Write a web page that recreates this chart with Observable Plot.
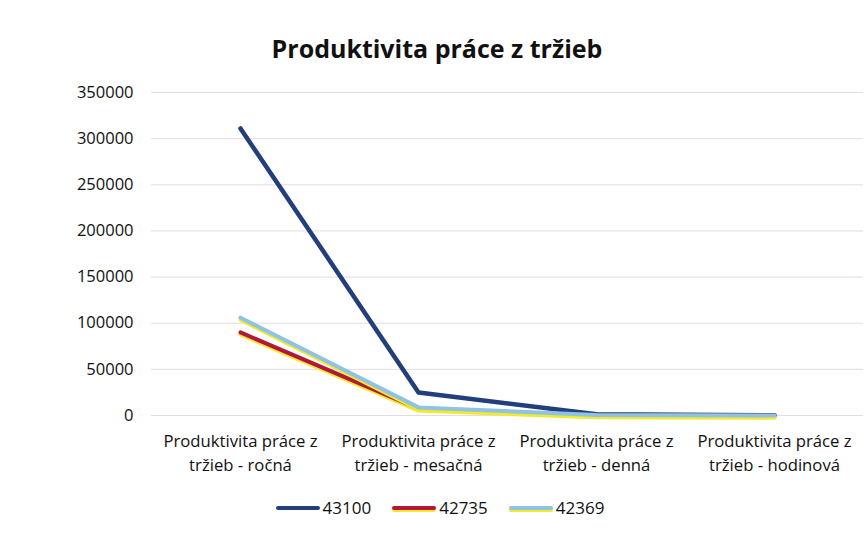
<!DOCTYPE html>
<html>
<head>
<meta charset="utf-8">
<script src="https://cdn.jsdelivr.net/npm/d3@7"></script>
<script src="https://cdn.jsdelivr.net/npm/@observablehq/plot@0.6"></script>
<style>
  html, body { margin: 0; padding: 0; background: #fff; }
  body { width: 866px; height: 535px; overflow: hidden; font-family: "Open Sans", sans-serif; color: #111; }
  #title { height: 75px; box-sizing: border-box; padding-top: 33px; text-align: center; font-size: 25px; line-height: 30px; font-weight: 700; padding-left: 8px; }
  #legend { height: 55px; display: flex; justify-content: center; align-items: center; gap: 21px; font-size: 17px; padding-left: 14px; }
  .item { display: flex; align-items: center; gap: 3px; }
  .sw { display: inline-block; width: 44px; height: 4px; border-radius: 2px; }
</style>
</head>
<body>
<div id="title">Produktivita práce z tržieb</div>
<div id="chart"></div>
<div id="legend"></div>
<script>
// Data
const categories = [
  "Produktivita práce z\ntržieb - ročná",
  "Produktivita práce z\ntržieb - mesačná",
  "Produktivita práce z\ntržieb - denná",
  "Produktivita práce z\ntržieb - hodinová"
];
const seriesNames = ["43100", "42735", "42369"];
const values43100 = [311000, 25000, 1240, 155];
const values42735 = [90000, 7500, 360, 45];
const values42369 = [106000, 8800, 420, 52];
const yTicks = [0, 50000, 100000, 150000, 200000, 250000, 300000, 350000];

const seriesColors = { "43100": "#223f7c", "42735": "#b3173c", "42369": "#8fc3e6" };
const underColors = { "43100": null, "42735": "#f2ea2a", "42369": "#f2ea2a" };

const valuesBySeries = { "43100": values43100, "42735": values42735, "42369": values42369 };
const rows = s => categories.map((c, i) => ({ cat: c, value: valuesBySeries[s][i], series: s }));

const marks = [
  Plot.ruleY(yTicks, { stroke: "#e3dbe6", strokeWidth: 1 }),
  Plot.line(rows("43100"), { x: "cat", y: "value", stroke: seriesColors["43100"], strokeWidth: 4.5, strokeLinecap: "round", strokeLinejoin: "round" }),
  Plot.line(rows("42735"), { x: "cat", y: "value", stroke: underColors["42735"], strokeWidth: 4, dy: 2, strokeLinecap: "round", strokeLinejoin: "round" }),
  Plot.line(rows("42735"), { x: "cat", y: "value", stroke: seriesColors["42735"], strokeWidth: 4, strokeLinecap: "round", strokeLinejoin: "round" }),
  Plot.line(rows("42369"), { x: "cat", y: "value", stroke: underColors["42369"], strokeWidth: 4, dy: 2, strokeLinecap: "round", strokeLinejoin: "round" }),
  Plot.line(rows("42369"), { x: "cat", y: "value", stroke: seriesColors["42369"], strokeWidth: 4, strokeLinecap: "round", strokeLinejoin: "round" }),
  Plot.axisY({ ticks: yTicks, tickSize: 0, tickPadding: 18, tickFormat: d3.format("d"), fontSize: 16.5, label: null }),
  Plot.axisX({ tickSize: 0, tickPadding: 14, fontSize: 16.7, lineHeight: 1.45, label: null })
];

const chart = Plot.plot({
  width: 866,
  height: 405,
  marginTop: 17,
  marginBottom: 65,
  marginLeft: 151,
  marginRight: 3,
  style: { fontFamily: "Open Sans, sans-serif", color: "#111", background: "#fff", overflow: "visible" },
  x: { type: "point", domain: categories, padding: 0.5 },
  y: { domain: [0, 350000] },
  marks
});
document.getElementById("chart").appendChild(chart);

const legend = document.getElementById("legend");
for (const s of seriesNames) {
  const item = document.createElement("div");
  item.className = "item";
  const sw = document.createElement("span");
  sw.className = "sw";
  sw.style.background = seriesColors[s];
  if (underColors[s]) sw.style.boxShadow = `0 2px 0 ${underColors[s]}`;
  const lab = document.createElement("span");
  lab.textContent = s;
  item.appendChild(sw);
  item.appendChild(lab);
  legend.appendChild(item);
}
</script>
</body>
</html>
